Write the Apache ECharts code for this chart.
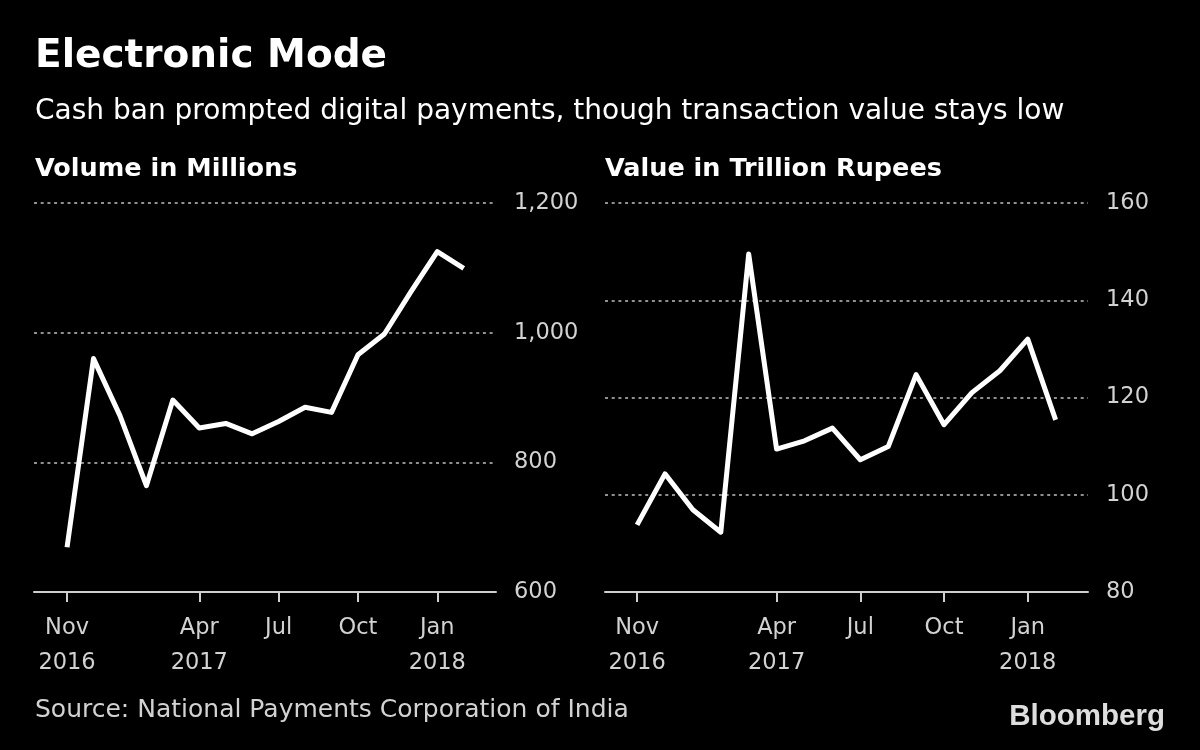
<!DOCTYPE html>
<html><head><meta charset="utf-8">
<script src="https://cdn.jsdelivr.net/npm/echarts@6/dist/echarts.min.js"></script>
<style>html,body{margin:0;padding:0;background:#000}#c{width:1200px;height:750px}</style>
</head><body><div id="c"></div>
<script>
// Month index 0 = Nov 2016 ... 15 = Feb 2018
const months = ['Nov 2016','Dec 2016','Jan 2017','Feb 2017','Mar 2017','Apr 2017','May 2017','Jun 2017',
  'Jul 2017','Aug 2017','Sep 2017','Oct 2017','Nov 2017','Dec 2017','Jan 2018','Feb 2018'];
const volumeMillions = [669, 960, 872, 764, 896, 853, 860, 844, 863, 885, 877, 966, 998, 1063, 1125, 1099];
const valueTrillionRupees = [93.8, 104.3, 96.9, 92.3, 149.5, 109.4, 111.1, 113.7, 107.2, 109.9, 124.7, 114.4, 121.0, 125.5, 132.0, 115.4];
const tickMonthIndex = [0, 5, 8, 11, 14];
const tickLabels = ['Nov\n2016', 'Apr\n2017', 'Jul', 'Oct', 'Jan\n2018'];
const volumeAxis = { min: 600, max: 1200, interval: 200 };
const valueAxis = { min: 80, max: 160, interval: 20 };

const FONT = 'DejaVu Sans';
const LABEL = '#d2d2d2';

function xAxisFor(gridIndex, min, max) {
  return {
    type: 'value', gridIndex, min, max,
    splitLine: { show: false },
    axisLine: { show: true, lineStyle: { color: '#cfcfcf', width: 2 } },
    axisTick: { show: true, customValues: tickMonthIndex, length: 10, lineStyle: { color: '#cfcfcf', width: 2 } },
    axisLabel: {
      customValues: tickMonthIndex,
      formatter: v => tickLabels[tickMonthIndex.indexOf(v)],
      color: LABEL, fontFamily: FONT, fontSize: 22.5, lineHeight: 35, margin: 19
    }
  };
}
function yAxisFor(gridIndex, cfg) {
  return {
    type: 'value', gridIndex, position: 'right',
    min: cfg.min, max: cfg.max, interval: cfg.interval,
    axisLine: { show: false }, axisTick: { show: false },
    splitLine: { show: true, lineStyle: { color: '#909090', width: 2, type: [3, 3.7] } },
    axisLabel: {
      color: LABEL, fontFamily: FONT, fontSize: 22.5, margin: 18,
      formatter: v => v.toLocaleString('en-US')
    }
  };
}
function text(t, x, baseline, size, weight, fill, align, family) {
  return {
    type: 'text', x, y: baseline - 0.346 * size, z: 10,
    style: { text: t, fill, font: weight + ' ' + size + 'px "' + (family || FONT) + '"',
      textAlign: align || 'left', textVerticalAlign: 'middle', verticalAlign: 'middle' }
  };
}

const chart = echarts.init(document.getElementById('c'), null, { renderer: 'canvas' });
chart.setOption({
  backgroundColor: '#000',
  animation: false,
  grid: [
    { left: 34, top: 203, width: 462, height: 389 },
    { left: 605, top: 203, width: 483, height: 389 }
  ],
  xAxis: [xAxisFor(0, -1.25, 16.22), xAxisFor(1, -1.15, 16.16)],
  yAxis: [yAxisFor(0, volumeAxis), yAxisFor(1, valueAxis)],
  series: [
    { type: 'line', xAxisIndex: 0, yAxisIndex: 0, showSymbol: false, z: 5,
      data: volumeMillions.map((v, i) => [i, v]),
      lineStyle: { color: '#ffffff', width: 5, join: 'round', cap: 'butt' } },
    { type: 'line', xAxisIndex: 1, yAxisIndex: 1, showSymbol: false, z: 5,
      data: valueTrillionRupees.map((v, i) => [i, v]),
      lineStyle: { color: '#ffffff', width: 5, join: 'round', cap: 'butt' } }
  ],
  graphic: [
    text('Electronic Mode', 35, 70, 39, 'bold', '#ffffff'),
    text('Cash ban prompted digital payments, though transaction value stays low', 35, 121.7, 28, 'normal', '#ffffff'),
    text('Volume in Millions', 35, 178.3, 25.5, 'bold', '#ffffff'),
    text('Value in Trillion Rupees', 605, 178.3, 25.5, 'bold', '#ffffff'),
    text('Source: National Payments Corporation of India', 35, 719.3, 25, 'normal', LABEL),
    text('Bloomberg', 1165, 726.7, 29.5, 'bold', '#dedede', 'right', 'Liberation Sans')
  ]
});
</script>
</body></html>
